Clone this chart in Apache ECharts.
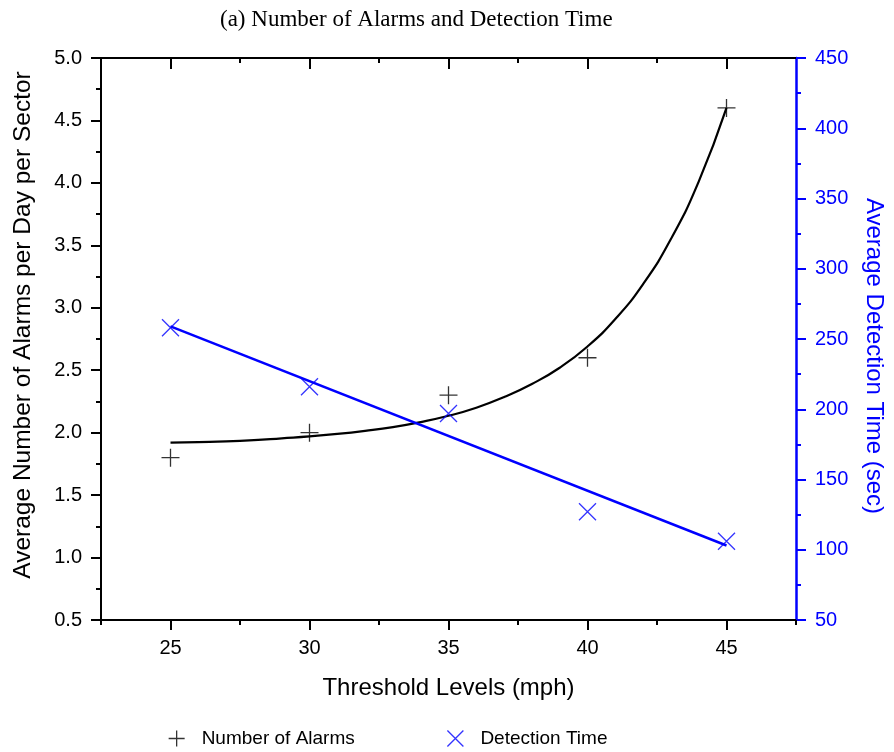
<!DOCTYPE html>
<html>
<head>
<meta charset="utf-8">
<script src="https://cdn.jsdelivr.net/npm/echarts@6/dist/echarts.min.js"></script>
<style>
  html, body { margin: 0; padding: 0; background: #fff; }
  #chart { width: 894px; height: 752px; }
</style>
</head>
<body>
<div id="chart"></div>
<script>
// ---- data ----
var thresholds = [25, 30, 35, 40, 45];
var alarms = [1.8, 2.0, 2.3, 2.6, 4.6];
var detectionTimes = [258, 216, 197, 127, 106];
// fitted curve for alarms
var alarmFitX = [25, 26, 27, 28, 29, 30, 31, 32, 33, 34, 35, 36, 37, 38, 39, 40, 41, 42, 43, 44, 45];
var alarmFitY = [1.92, 1.925, 1.93, 1.94, 1.955, 1.97, 1.99, 2.015, 2.045, 2.085, 2.135, 2.20, 2.285, 2.39, 2.52, 2.69, 2.91, 3.19, 3.55, 4.01, 4.6];
// fitted straight line for detection time (endpoints)
var timeFitX = [25, 45];
var timeFitY = [259, 103];
// tick positions
var xMajorTicks = [25, 30, 35, 40, 45];
var xMinorTicks = [22.5, 27.5, 32.5, 37.5, 42.5, 47.5];

var FONT = 'Liberation Sans, Arial, sans-serif';
var BLUE = '#0000ff';

function pairs(xs, ys) { return xs.map(function (x, i) { return [x, ys[i]]; }); }

var plusPath = 'path://M0,10L20,10M10,0L10,20';
var crossPath = 'path://M0,0L20,20M20,0L0,20';

var chart = echarts.init(document.getElementById('chart'), null, { renderer: 'canvas' });

var xBase = { type: 'value', min: 22.5, max: 47.5, splitLine: { show: false }, gridIndex: 0 };

var option = {
  animation: false,
  backgroundColor: '#fff',
  title: {
    text: '(a) Number of Alarms and Detection Time',
    left: 215, top: 3,
    textStyle: { fontFamily: 'Liberation Serif, Times New Roman, serif', fontSize: 23, fontWeight: 'normal', color: '#000' }
  },
  grid: { left: 101, right: 96, top: 58, bottom: 132, containLabel: false },
  legend: {
    top: 724, left: 163, itemGap: 92, itemWidth: 16, itemHeight: 16,
    textStyle: { fontFamily: FONT, fontSize: 19, color: '#000', padding: [0, 0, 0, 12] },
    data: [
      { name: 'Number of Alarms', icon: plusPath, itemStyle: { color: 'transparent', borderColor: '#000', borderWidth: 1.3 } },
      { name: 'Detection Time', icon: crossPath, itemStyle: { color: 'transparent', borderColor: BLUE, borderWidth: 1.3 } }
    ]
  },
  xAxis: [
    Object.assign({}, xBase, {
      position: 'bottom',
      name: 'Threshold Levels (mph)', nameLocation: 'middle', nameGap: 56,
      nameTextStyle: { fontFamily: FONT, fontSize: 24, color: '#000' },
      axisLine: { show: true, onZero: false, lineStyle: { color: '#000', width: 2 } },
      axisTick: { show: true, inside: false, length: 10, customValues: xMajorTicks, lineStyle: { color: '#000', width: 2 } },
      axisLabel: { show: true, margin: 18, customValues: xMajorTicks, fontFamily: FONT, fontSize: 20, color: '#000' }
    }),
    Object.assign({}, xBase, {
      position: 'bottom',
      axisLine: { show: false, onZero: false },
      axisTick: { show: true, inside: false, length: 5, customValues: xMinorTicks, lineStyle: { color: '#000', width: 2 } },
      axisLabel: { show: false }
    }),
    Object.assign({}, xBase, {
      position: 'top',
      axisLine: { show: true, onZero: false, lineStyle: { color: '#000', width: 2 } },
      axisTick: { show: true, inside: true, length: 11, customValues: xMajorTicks, lineStyle: { color: '#000', width: 2 } },
      axisLabel: { show: false }
    }),
    Object.assign({}, xBase, {
      position: 'top',
      axisLine: { show: false, onZero: false },
      axisTick: { show: true, inside: true, length: 5, customValues: xMinorTicks.slice(1, 5), lineStyle: { color: '#000', width: 2 } },
      axisLabel: { show: false }
    })
  ],
  yAxis: [
    {
      type: 'value', position: 'left', min: 0.5, max: 5, interval: 0.5,
      name: 'Average Number of Alarms per Day per Sector', nameLocation: 'middle', nameGap: 65, nameRotate: 90,
      nameTextStyle: { fontFamily: FONT, fontSize: 24.5, color: '#000', padding: [0, 0, 0, 28] },
      axisLine: { show: true, onZero: false, lineStyle: { color: '#000', width: 2 } },
      axisTick: { show: true, inside: false, length: 10, lineStyle: { color: '#000', width: 2 } },
      minorTick: { show: true, splitNumber: 2, length: 5, lineStyle: { color: '#000', width: 2 } },
      axisLabel: { margin: 19, fontFamily: FONT, fontSize: 20, color: '#000', formatter: function (v) { return v.toFixed(1); } },
      splitLine: { show: false }, minorSplitLine: { show: false }
    },
    {
      type: 'value', position: 'right', min: 50, max: 450, interval: 50,
      name: 'Average Detection Time (sec)', nameLocation: 'middle', nameGap: 66, nameRotate: -90,
      nameTextStyle: { fontFamily: FONT, fontSize: 24, color: BLUE, padding: [0, 0, 0, 34] },
      axisLine: { show: true, onZero: false, lineStyle: { color: BLUE, width: 2.5 } },
      axisTick: { show: true, inside: false, length: 10, lineStyle: { color: BLUE, width: 2 } },
      minorTick: { show: true, splitNumber: 2, length: 5, lineStyle: { color: BLUE, width: 2 } },
      axisLabel: { margin: 19, fontFamily: FONT, fontSize: 20, color: BLUE },
      splitLine: { show: false }, minorSplitLine: { show: false }
    }
  ],
  series: [
    {
      name: 'Alarm fit', type: 'line', xAxisIndex: 0, yAxisIndex: 0,
      data: pairs(alarmFitX, alarmFitY), smooth: true, showSymbol: false, symbol: 'none',
      lineStyle: { color: '#000', width: 2.2 }, z: 2, silent: true
    },
    {
      name: 'Time fit', type: 'line', xAxisIndex: 0, yAxisIndex: 1,
      data: pairs(timeFitX, timeFitY), showSymbol: false, symbol: 'none',
      lineStyle: { color: BLUE, width: 2.5 }, z: 2, silent: true
    },
    {
      name: 'Number of Alarms', type: 'scatter', xAxisIndex: 0, yAxisIndex: 0,
      data: pairs(thresholds, alarms), symbol: plusPath, symbolSize: 18,
      itemStyle: { color: 'transparent', borderColor: '#000', borderWidth: 1.3 }, z: 3
    },
    {
      name: 'Detection Time', type: 'scatter', xAxisIndex: 0, yAxisIndex: 1,
      data: pairs(thresholds, detectionTimes), symbol: crossPath, symbolSize: 17,
      itemStyle: { color: 'transparent', borderColor: BLUE, borderWidth: 1.3 }, z: 3
    }
  ]
};
chart.setOption(option);
</script>
</body>
</html>
